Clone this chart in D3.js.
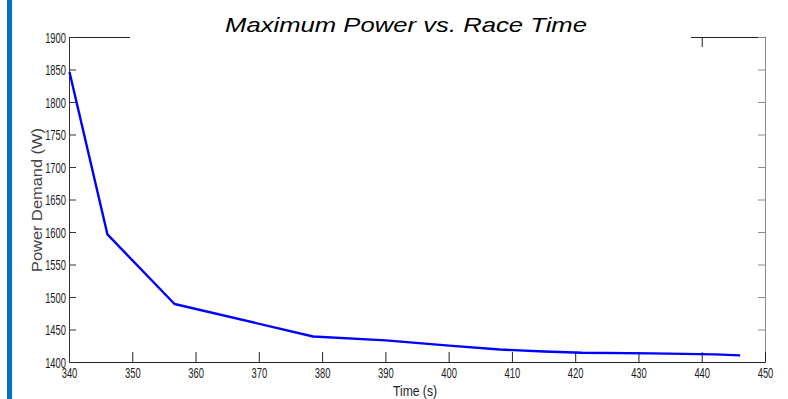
<!DOCTYPE html>
<html>
<head>
<meta charset="utf-8">
<script src="https://cdn.jsdelivr.net/npm/d3@7"></script>
<style>
  body { margin: 0; background: #fff; }
  figure { margin: 0; }
  svg { display: block; }
</style>
</head>
<body>
<figure id="chart"></figure>
<script>
// data
const raceTime = [340, 346, 356.6, 378.5, 390, 400, 408, 415, 421, 432, 442, 446];
const maxPower = [1847, 1597, 1490, 1440, 1434, 1426, 1420, 1417, 1415, 1414, 1412.5, 1411];

const xTicks = [340, 350, 360, 370, 380, 390, 400, 410, 420, 430, 440, 450];
const yTicks = [1400, 1450, 1500, 1550, 1600, 1650, 1700, 1750, 1800, 1850, 1900];

const title = "Maximum Power vs. Race Time";
const xTitle = "Time (s)";
const yTitle = "Power Demand (W)";

const width = 788;
const height = 399;
const squeeze = 0.67; // tick labels are drawn condensed

const svg = d3.select("figure#chart")
  .append("svg")
  .attr("width", width)
  .attr("height", height);

// blue bar at the left edge
svg.append("rect")
  .attr("x", 7)
  .attr("y", 0)
  .attr("width", 5)
  .attr("height", height)
  .style("fill", "#0070c0");

// d3 adds 0.5 to axis positions itself
const x = d3.scaleLinear().domain([340, 450]).range([69, 765]);
const y = d3.scaleLinear().domain([1400, 1900]).range([362, 37]);

// top and right sides of the box, ticks only
svg.append("g")
  .attr("transform", "translate(0," + y(1900) + ")")
  .call(d3.axisTop(x).tickValues(xTicks).tickSizeInner(-10).tickSizeOuter(0).tickFormat(""))
  .call(g => g.selectAll("line, path").attr("stroke", "#222"));

svg.append("g")
  .attr("transform", "translate(" + x(450) + ",0)")
  .call(d3.axisRight(y).tickValues(yTicks).tickSizeInner(-7).tickSizeOuter(0).tickFormat(""))
  .call(g => g.selectAll("line, path").attr("stroke", "#8a8a8a"));

// bottom axis
const xAxis = svg.append("g")
  .attr("transform", "translate(0," + y(1400) + ")")
  .call(d3.axisBottom(x).tickValues(xTicks).tickSizeInner(-10).tickSizeOuter(0).tickFormat(d3.format("d")));

xAxis.selectAll("line, path").attr("stroke", "#222");
xAxis.selectAll("text")
  .attr("y", 16.5)
  .attr("dy", null)
  .attr("transform", "scale(" + squeeze + ",1)")
  .style("font", "14px Arial, 'Liberation Sans', sans-serif")
  .attr("fill", "#1a1a1a");

// left axis
const yAxis = svg.append("g")
  .attr("transform", "translate(" + x(340) + ",0)")
  .call(d3.axisLeft(y).tickValues(yTicks).tickSizeInner(-7).tickSizeOuter(0).tickFormat(d3.format("d")));

yAxis.selectAll("line, path").attr("stroke", "#333");
yAxis.selectAll("text")
  .attr("x", -3 / squeeze)
  .attr("dy", "0.36em")
  .attr("transform", "scale(" + squeeze + ",1)")
  .style("font", "14px Arial, 'Liberation Sans', sans-serif")
  .attr("fill", "#1a1a1a");

// the curve
const line = d3.line()
  .x(d => x(d[0]) + 0.5)
  .y(d => y(d[1]) + 0.5);

svg.append("path")
  .datum(raceTime.map((t, i) => [t, maxPower[i]]))
  .attr("fill", "none")
  .attr("stroke", "#0000ff")
  .attr("stroke-width", 2.4)
  .attr("stroke-linejoin", "round")
  .attr("d", line);

// title sits on a white box over the top edge
svg.append("rect")
  .attr("x", 130)
  .attr("y", 0)
  .attr("width", 561)
  .attr("height", 50)
  .style("fill", "#fff");

svg.append("text")
  .attr("x", 406)
  .attr("y", 32)
  .attr("text-anchor", "middle")
  .attr("textLength", 362)
  .attr("lengthAdjust", "spacingAndGlyphs")
  .style("font", "italic 21px Arial, 'Liberation Sans', sans-serif")
  .attr("fill", "#000")
  .text(title);

// axis titles
svg.append("text")
  .attr("transform", "translate(42,200) rotate(-90)")
  .attr("text-anchor", "middle")
  .attr("textLength", 144)
  .attr("lengthAdjust", "spacingAndGlyphs")
  .style("font", "14px Arial, 'Liberation Sans', sans-serif")
  .attr("fill", "#444")
  .text(yTitle);

svg.append("text")
  .attr("x", 415)
  .attr("y", 395.5)
  .attr("text-anchor", "middle")
  .attr("textLength", 44)
  .attr("lengthAdjust", "spacingAndGlyphs")
  .style("font", "14px Arial, 'Liberation Sans', sans-serif")
  .attr("fill", "#222")
  .text(xTitle);
</script>
</body>
</html>
